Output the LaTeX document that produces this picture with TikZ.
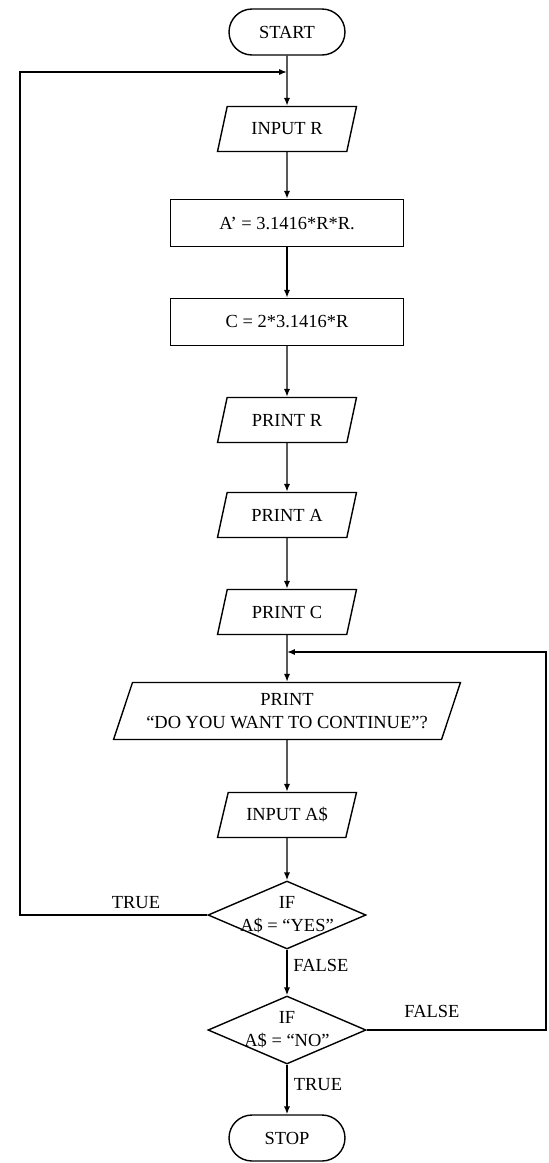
\documentclass[tikz,border=0pt]{standalone}
\usepackage{fontspec}
\setmainfont{Liberation Serif}
\usepackage{tikz}
\usetikzlibrary{shapes.geometric, arrows.meta}

\begin{document}
\begin{tikzpicture}[x=0.02cm, y=-0.02cm, line width=0.8pt,
	every node/.style={font=\fontsize{10.5}{13}\selectfont},
	terminal/.style={draw, rectangle, rounded corners=0.46cm, minimum width=2.32cm, minimum height=0.92cm},
	process/.style={draw, rectangle, minimum width=4.66cm, minimum height=0.94cm},
	io/.style={draw, trapezium, trapezium left angle=68, trapezium right angle=112, trapezium stretches body, minimum width=2.78cm, minimum height=0.9cm},
	decision/.style={draw, diamond, inner sep=0pt, minimum width=3.16cm, minimum height=1.36cm},
	iftext/.style={align=center},
	arrow/.style={-{Latex[length=4.5pt, width=3.5pt]}}]
	\useasboundingbox (0,0) rectangle (548,1163);
	\node[terminal] (start) at (287,32) {START};
	\node[io] (inR) at (287,129) {INPUT R};
	\node[process] (area) at (287,223) {A' = 3.1416*R*R.};
	\node[process] (circ) at (287,322) {C = 2*3.1416*R};
	\node[io] (prR) at (287,420) {PRINT R};
	\node[io] (prA) at (287,515) {PRINT A};
	\node[io] (prC) at (287,612) {PRINT C};
	\node[io, minimum width=6.94cm, minimum height=1.14cm, align=center] (ask) at (287,711) {PRINT\\“DO YOU WANT TO CONTINUE”?};
	\node[io] (inA) at (287,815) {INPUT A\$};
	\node[decision] (ifyes) at (287,915) {};
	\node[iftext] (ifyestext) at (ifyes) {IF\\A\$ = “YES”};
	\node[decision] (ifno) at (287,1030) {};
	\node[iftext] (ifnotext) at (ifno) {IF\\A\$ = “NO”};
	\node[terminal] (stop) at (287,1138) {STOP};
	% The points where the loops come back
	\coordinate (join1) at (287,72);
	\coordinate (join2) at (287,652);
	\coordinate (leftc) at (20,72);
	\coordinate (rightc) at (546,652);
	% Main flow
	\draw[arrow] (start) -- (inR);
	\draw[arrow] (inR) -- (area);
	\draw[arrow] (area) -- (circ);
	\draw[arrow] (circ) -- (prR);
	\draw[arrow] (prR) -- (prA);
	\draw[arrow] (prA) -- (prC);
	\draw[arrow] (prC) -- (ask);
	\draw[arrow] (ask) -- (inA);
	\draw[arrow] (inA) -- (ifyes);
	\draw[arrow] (ifyes) -- (ifno);
	\draw[arrow] (ifno) -- (stop);
	% Loops
	\draw[arrow] (ifyes.west) -| (leftc) -- (join1);
	\draw[arrow] (ifno.east) -| (rightc) -- (join2);
	% Labels
	\node (trueL) at (136,903) {TRUE};
	\node (falseB) at (321,965) {FALSE};
	\node (falseR) at (432,1011) {FALSE};
	\node (trueB) at (318,1085) {TRUE};
\end{tikzpicture}
\end{document}
